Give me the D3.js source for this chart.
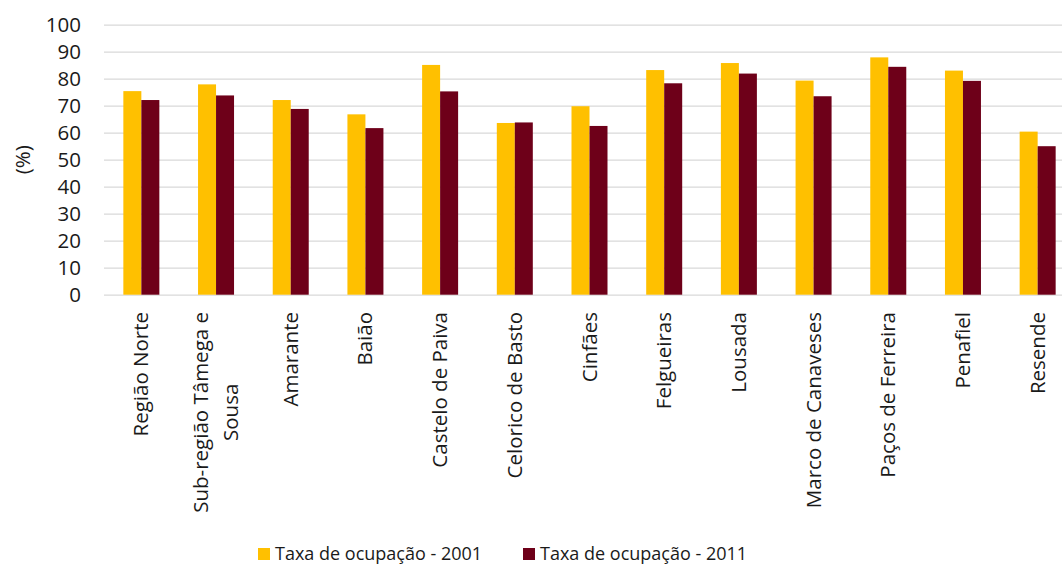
<!DOCTYPE html>
<html>
<head>
<meta charset="utf-8">
<script src="https://cdn.jsdelivr.net/npm/d3@7"></script>
<style>
  body { margin: 0; background: #fff; }
  svg { display: block; font-family: 'Open Sans', sans-serif; }
</style>
</head>
<body>
<svg></svg>
<script>
let categories = ['Região Norte', 'Sub-região Tâmega e|Sousa', 'Amarante', 'Baião', 'Castelo de Paiva',
  'Celorico de Basto', 'Cinfães', 'Felgueiras', 'Lousada', 'Marco de Canaveses',
  'Paços de Ferreira', 'Penafiel', 'Resende']
let rate2001 = [75.4, 77.9, 72.1, 66.8, 85.1, 63.6, 69.8, 83.2, 85.8, 79.3, 87.9, 83.0, 60.4]
let rate2011 = [72.1, 73.8, 68.8, 61.7, 75.3, 63.8, 62.5, 78.3, 81.9, 73.5, 84.4, 79.2, 55.0]
let seriesNames = ['Taxa de ocupação - 2001', 'Taxa de ocupação - 2011']
let seriesColors = ['#FFC000', '#6E0019']
let yTicks = [0, 10, 20, 30, 40, 50, 60, 70, 80, 90, 100]

let width = 1062
let height = 565
let plotLeft = 104
let plotRight = 1075
let plotTop = 24.7
let plotBottom = 294.7
let fontSize = '20.5px'
let textColor = '#1a1a1a'

let svg = d3.select('svg').attr('width', width).attr('height', height)

let rows = categories.map((c, i) => ({ cat: c, values: [rate2001[i], rate2011[i]] }))

let xScale = d3.scaleBand()
  .domain(categories)
  .range([plotLeft, plotRight])
  .paddingInner(0.518)
  .paddingOuter(0.259)

let xSub = d3.scaleBand()
  .domain([0, 1])
  .range([0, xScale.bandwidth()])

let yScale = d3.scaleLinear()
  .domain([0, 100])
  .range([plotBottom, plotTop])

// gridlines + y labels
let yAxis = d3.axisLeft(yScale)
  .tickValues(yTicks)
  .tickSize(-(plotRight - plotLeft))
  .tickPadding(23)

let yG = svg.append('g')
  .attr('transform', 'translate(' + plotLeft + ',0)')
  .call(yAxis)
yG.select('.domain').remove()
yG.selectAll('line').attr('stroke', '#d9d9d9').attr('stroke-width', 1.3)
yG.selectAll('text')
  .attr('fill', textColor)
  .style('font-size', fontSize)
  .style('font-family', "'Open Sans', sans-serif")

svg.append('text')
  .attr('transform', 'translate(30,' + ((plotTop + plotBottom) / 2) + ') rotate(-90)')
  .attr('text-anchor', 'middle')
  .attr('fill', textColor)
  .style('font-size', fontSize)
  .text('(%)')

// bars
let groups = svg.selectAll('.grp')
  .data(rows)
  .enter()
  .append('g')
  .attr('class', 'grp')
  .attr('transform', d => 'translate(' + xScale(d.cat) + ',0)')

groups.selectAll('rect')
  .data(d => d.values)
  .enter()
  .append('rect')
  .attr('x', (d, i) => xSub(i))
  .attr('width', xSub.bandwidth())
  .attr('y', d => yScale(d))
  .attr('height', d => yScale(0) - yScale(d))
  .attr('fill', (d, i) => seriesColors[i])

// category labels, rotated, wrapped lines centred on each other
let labelTop = 312
categories.forEach(c => {
  let cx = xScale(c) + xScale.bandwidth() / 2
  let lines = c.split('|')
  let g = svg.append('g')
    .attr('transform', 'translate(' + cx + ',' + labelTop + ') rotate(-90)')
  let texts = lines.map((ln, i) => g.append('text')
    .attr('fill', textColor)
    .style('font-size', fontSize)
    .attr('y', lines.length === 1 ? 7 : -8 + i * 30)
    .text(ln))
  let maxLen = d3.max(texts, t => t.node().getComputedTextLength())
  texts.forEach(t => t.attr('text-anchor', 'middle').attr('x', -maxLen / 2))
})

// legend
let legendX = [258, 523]
seriesNames.forEach((name, i) => {
  svg.append('rect')
    .attr('x', legendX[i])
    .attr('y', 548)
    .attr('width', 12)
    .attr('height', 12)
    .attr('fill', seriesColors[i])
  svg.append('text')
    .attr('x', legendX[i] + 17)
    .attr('y', 560)
    .attr('fill', textColor)
    .style('font-size', '18px')
    .text(name)
})
</script>
</body>
</html>
